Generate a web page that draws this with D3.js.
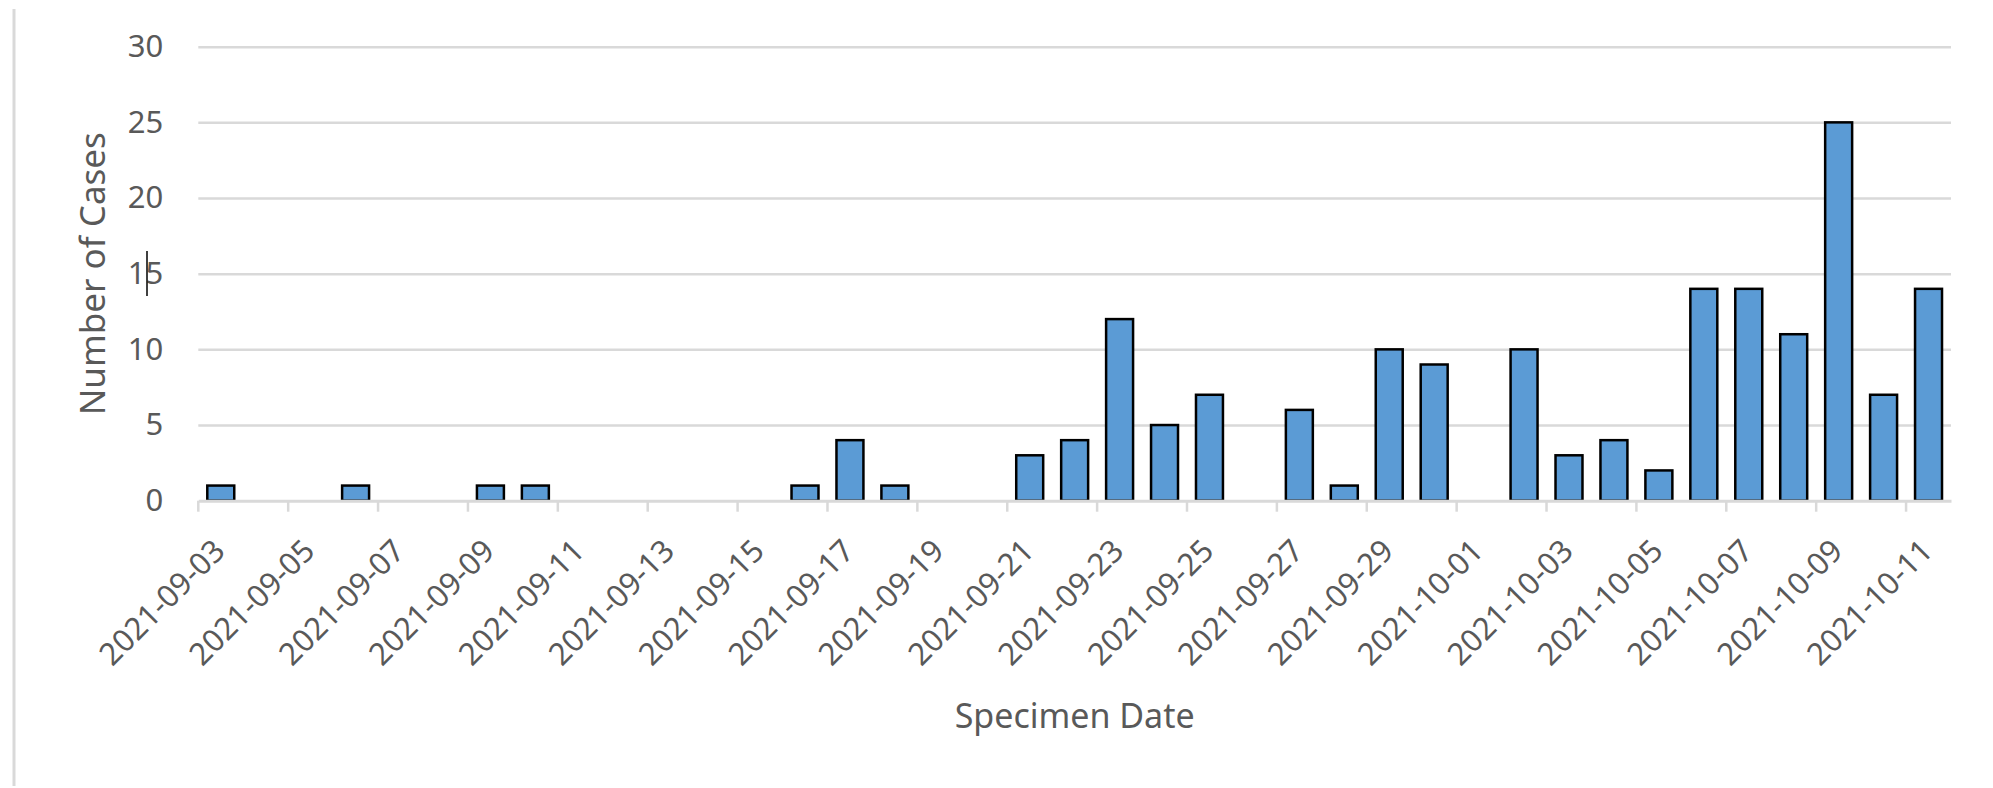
<!DOCTYPE html>
<html>
<head>
<meta charset="utf-8">
<script src="https://d3js.org/d3.v7.min.js"></script>
<style>
  body { margin: 0; background: #ffffff; }
  #dataviz text { font-family: "Noto Sans", "Open Sans", sans-serif; fill: #595959; }
</style>
</head>
<body>
<div id="dataviz"></div>
<script>
// Chart data
var dates = [
    "2021-09-03", "2021-09-04", "2021-09-05", "2021-09-06", "2021-09-07", "2021-09-08",
    "2021-09-09", "2021-09-10", "2021-09-11", "2021-09-12", "2021-09-13", "2021-09-14",
    "2021-09-15", "2021-09-16", "2021-09-17", "2021-09-18", "2021-09-19", "2021-09-20",
    "2021-09-21", "2021-09-22", "2021-09-23", "2021-09-24", "2021-09-25", "2021-09-26",
    "2021-09-27", "2021-09-28", "2021-09-29", "2021-09-30", "2021-10-01", "2021-10-02",
    "2021-10-03", "2021-10-04", "2021-10-05", "2021-10-06", "2021-10-07", "2021-10-08",
    "2021-10-09", "2021-10-10", "2021-10-11"
];
var cases = [
    1, 0, 0, 1, 0, 0,
    1, 1, 0, 0, 0, 0,
    0, 1, 4, 1, 0, 0,
    3, 4, 12, 5, 7, 0,
    6, 1, 10, 9, 0, 10,
    3, 4, 2, 14, 14, 11,
    25, 7, 14
];
var yTicks = [0, 5, 10, 15, 20, 25, 30];
var xLabels = dates.filter(function(d, i) { return i % 2 === 0; });

// Set svg dimensions
var margin = {top: 46.7, right: 42, bottom: 287.3, left: 198.3};
const width = 1993;
const height = 788;

var plotWidth = width - margin.left - margin.right;
var plotHeight = height - margin.top - margin.bottom;

var root = d3.select("#dataviz")
            .append("svg")
                .attr("width", width)
                .attr("height", height);

root.append("rect")
    .attr("width", width)
    .attr("height", height)
    .attr("fill", "#ffffff");

// Thin grey border on the left edge
root.append("line")
    .attr("x1", 14).attr("x2", 14)
    .attr("y1", 9).attr("y2", 786)
    .attr("stroke", "#d9d9d9")
    .attr("stroke-width", 3);

var svg = root.append("g")
            .attr("transform", "translate(" + margin.left + "," + margin.top + ")");

// Scales
var scaleX = d3.scaleBand()
                .domain(dates)
                .range([0, plotWidth])
                .paddingInner(0.4)
                .paddingOuter(0.2);

var scaleY = d3.scaleLinear()
                .domain([0, 30])
                .range([plotHeight, 0]);

// Y axis with gridlines
var axisY = svg.append("g")
                .attr("class", "axisY")
                .call(d3.axisLeft(scaleY).tickValues(yTicks).tickSize(-plotWidth).tickPadding(35));

axisY.select(".domain").remove();
axisY.selectAll(".tick line")
    .attr("stroke", "#d9d9d9")
    .attr("stroke-width", 2.5);
axisY.selectAll(".tick text")
    .style("font-size", "31px");
axisY.selectAll(".tick")
    .filter(function(d) { return d === 0; })
    .select("line").remove();

// Bars
svg.selectAll("rect.data_rect")
    .data(dates.map(function(d, i) { return {date: d, value: cases[i]}; }))
    .enter()
    .append("rect")
        .attr("class", "data_rect")
        .attr("x", function(d) { return scaleX(d.date); })
        .attr("y", function(d) { return scaleY(d.value); })
        .attr("width", scaleX.bandwidth())
        .attr("height", function(d) { return plotHeight - scaleY(d.value); })
        .attr("fill", function(d) { return d.value > 0 ? "#5b9bd5" : "none"; })
        .attr("stroke", function(d) { return d.value > 0 ? "#000000" : "none"; })
        .attr("stroke-width", 2.5);

// X axis: ticks between categories, rotated labels
var step = scaleX.step();
var axisX = svg.append("g")
                .attr("class", "axisX")
                .attr("transform", "translate(0," + plotHeight + ")")
                .call(d3.axisBottom(scaleX).tickValues(xLabels).tickSize(11).tickSizeOuter(0));

axisX.select(".domain")
    .attr("stroke", "#d9d9d9")
    .attr("stroke-width", 3);
axisX.selectAll(".tick line")
    .attr("stroke", "#d9d9d9")
    .attr("stroke-width", 2.5)
    .attr("x1", -step / 2)
    .attr("x2", -step / 2);
axisX.selectAll(".tick text")
    .style("font-size", "31px")
    .style("text-anchor", "end")
    .attr("y", 0)
    .attr("dy", 0)
    .attr("transform", "translate(6,52) rotate(-45)");

// Axis titles
svg.append("text")
    .attr("x", plotWidth / 2)
    .attr("y", 728 - margin.top)
    .style("text-anchor", "middle")
    .style("font-size", "34px")
    .text("Specimen Date");

svg.append("text")
    .attr("transform", "translate(" + (105 - margin.left) + "," + (plotHeight / 2) + ") rotate(-90)")
    .style("text-anchor", "middle")
    .style("font-size", "35px")
    .text("Number of Cases");

// Text cursor left over the "15" label
root.append("line")
    .attr("x1", 147).attr("x2", 147)
    .attr("y1", 251).attr("y2", 296)
    .attr("stroke", "#000000")
    .attr("stroke-width", 1.5);
</script>
</body>
</html>
